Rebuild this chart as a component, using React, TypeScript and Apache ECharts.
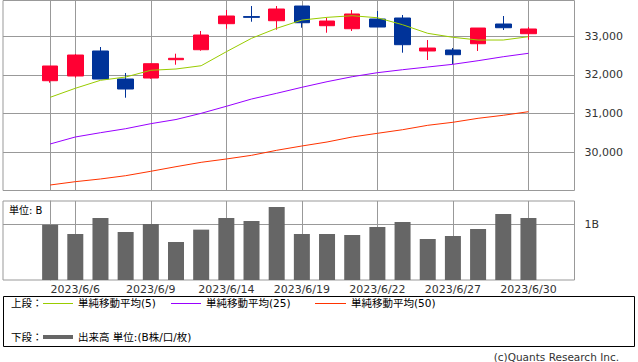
import React, { useEffect, useRef } from 'react';
import * as echarts from 'echarts';

const dates = ['2023/6/5', '2023/6/6', '2023/6/7', '2023/6/8', '2023/6/9', '2023/6/12', '2023/6/13', '2023/6/14', '2023/6/15', '2023/6/16', '2023/6/19', '2023/6/20', '2023/6/21', '2023/6/22', '2023/6/23', '2023/6/26', '2023/6/27', '2023/6/28', '2023/6/29', '2023/6/30'];
const opens = [31851, 31973, 32620, 31895, 31921, 32395, 32653, 33326, 33510, 33403, 33783, 33274, 33196, 33447, 33473, 32620, 32646, 32808, 33318, 33067];
const closes = [32232, 32516, 31895, 31637, 32291, 32431, 33033, 33525, 33490, 33706, 33351, 33395, 33577, 33240, 32783, 32697, 32524, 33214, 33222, 33189];
const lows = [31800, 31929, 31895, 31412, 31903, 32265, 32627, 33196, 33377, 33170, 33222, 33093, 33137, 33240, 32576, 32387, 32283, 32620, 33163, 32912];
const highs = [32232, 32542, 32723, 32051, 32300, 32550, 33137, 33680, 33783, 33783, 33783, 33473, 33680, 33654, 33551, 32904, 32697, 33214, 33525, 33240];
const ma5 = [31422, 31655, 31862, 31947, 32121, 32154, 32239, 32601, 32948, 33207, 33420, 33490, 33532, 33480, 33300, 33077, 32974, 32904, 32904, 32990];
const ma25 = [30215, 30396, 30507, 30610, 30740, 30848, 31008, 31190, 31378, 31526, 31681, 31826, 31955, 32059, 32136, 32206, 32276, 32369, 32472, 32560];
const ma50 = [29154, 29240, 29310, 29395, 29509, 29628, 29741, 29827, 29922, 30052, 30163, 30266, 30396, 30491, 30584, 30698, 30776, 30879, 30957, 31050];
const volumesB = [0.99, 0.826, 1.113, 0.862, 1.005, 0.682, 0.904, 1.113, 1.059, 1.31, 0.826, 0.826, 0.808, 0.95, 1.04, 0.736, 0.79, 0.916, 1.185, 1.113];
const priceTicks = [30000, 31000, 32000, 33000];
const volumeTicks = [1];
const dateTickIndexes = [1, 4, 7, 10, 13, 16, 19];

const FONT = '"DejaVu Sans", "Noto Sans CJK JP", sans-serif';
const UP = '#ff0033';
const DOWN = '#003399';
const GRIDC = '#999999';

export default function App() {
  const ref = useRef<HTMLDivElement>(null);
  useEffect(() => {
    if (!ref.current) return;
    const chart = echarts.init(ref.current, undefined, { renderer: 'svg' });
    const xMin = -1.872;
    const xMax = 20.83;
    const xCommon = (gi: number, showLabel: boolean) => ({
      type: 'value',
      gridIndex: gi,
      min: xMin,
      max: xMax,
      axisLine: { show: false },
      axisTick: { show: false, customValues: dateTickIndexes },
      axisLabel: {
        show: showLabel,
        customValues: dateTickIndexes,
        formatter: (v: number) => dates[Math.round(v)] ?? '',
        fontSize: 11,
        fontFamily: FONT,
        color: '#333',
        margin: 4,
      },
      splitLine: { show: true, lineStyle: { color: GRIDC, width: 1 } },
    });
    const text = (t: string, x: number, y: number, size: number, extra: any = {}) => ({
      type: 'text',
      x,
      y,
      silent: true,
      style: { text: t, fontSize: size, fontFamily: FONT, fill: '#000', verticalAlign: 'middle', align: 'left', ...extra },
    });
    const line = (x1: number, x2: number, y: number, color: string, w: number) => ({
      type: 'line',
      silent: true,
      shape: { x1, y1: y, x2, y2: y },
      style: { stroke: color, lineWidth: w },
    });
    const option: any = {
      animation: false,
      grid: [
        { left: 3, top: 0.5, width: 571.5, height: 190, show: true, borderColor: GRIDC, borderWidth: 1 },
        { left: 3, top: 201, width: 571.5, height: 79, show: true, borderColor: GRIDC, borderWidth: 1 },
      ],
      xAxis: [xCommon(0, false), xCommon(1, true)],
      yAxis: [
        {
          type: 'value',
          gridIndex: 0,
          position: 'right',
          min: 29012,
          max: 33926,
          axisLine: { show: true, lineStyle: { color: GRIDC } },
          axisTick: { show: true, length: 6, lineStyle: { color: GRIDC }, customValues: priceTicks },
          axisLabel: {
            customValues: priceTicks,
            formatter: (v: number) => v.toLocaleString('en-US'),
            fontSize: 11,
            fontFamily: FONT,
            color: '#333',
            margin: 10,
          },
          splitLine: { show: true, lineStyle: { color: GRIDC, width: 1 } },
        },
        {
          type: 'value',
          gridIndex: 1,
          position: 'right',
          min: 0,
          max: 1.418,
          axisLine: { show: true, lineStyle: { color: GRIDC } },
          axisTick: { show: true, length: 6, lineStyle: { color: GRIDC }, customValues: volumeTicks },
          axisLabel: {
            customValues: volumeTicks,
            formatter: (v: number) => v + 'B',
            fontSize: 11,
            fontFamily: FONT,
            color: '#333',
            margin: 10,
          },
          splitLine: { show: true, lineStyle: { color: GRIDC, width: 1 } },
        },
      ],
      series: [
        {
          type: 'candlestick',
          xAxisIndex: 0,
          yAxisIndex: 0,
          barWidth: 16,
          itemStyle: { color: UP, color0: DOWN, borderColor: UP, borderColor0: DOWN, borderWidth: 1 },
          data: dates.map((_, i) => [i, opens[i], closes[i], lows[i], highs[i]]),
        },
        {
          type: 'line', xAxisIndex: 0, yAxisIndex: 0, symbol: 'none',
          lineStyle: { color: '#99cc00', width: 1 },
          data: ma5.map((v, i) => [i, v]),
        },
        {
          type: 'line', xAxisIndex: 0, yAxisIndex: 0, symbol: 'none',
          lineStyle: { color: '#9900ff', width: 1 },
          data: ma25.map((v, i) => [i, v]),
        },
        {
          type: 'line', xAxisIndex: 0, yAxisIndex: 0, symbol: 'none',
          lineStyle: { color: '#ff3300', width: 1 },
          data: ma50.map((v, i) => [i, v]),
        },
        {
          type: 'bar', xAxisIndex: 1, yAxisIndex: 1, barWidth: 16,
          itemStyle: { color: '#666666' },
          data: volumesB.map((v, i) => [i, v]),
        },
      ],
      graphic: [
        text('単位: B', 9, 210, 10),
        {
          type: 'rect',
          silent: true,
          shape: { x: 3.5, y: 296.5, width: 631, height: 50 },
          style: { fill: 'none', stroke: '#000', lineWidth: 1 },
        },
        text('上段：', 11, 303, 10.5),
        line(43, 73, 303.5, '#99cc00', 1),
        text('単純移動平均(5)', 78, 303, 10.5),
        line(171, 201, 303.5, '#9900ff', 1),
        text('単純移動平均(25)', 206, 303, 10.5),
        line(315, 346, 303.5, '#ff3300', 1),
        text('単純移動平均(50)', 351, 303, 10.5),
        text('下段：', 11, 337, 10.5),
        line(43, 73, 337, '#666666', 4),
        text('出来高 単位:(B株/口/枚)', 78, 337, 10.5),
        text('(c)Quants Research Inc.', 619, 357, 10.5, { align: 'right', fill: '#333' }),
      ],
    };
    chart.setOption(option);
    return () => chart.dispose();
  }, []);
  return <div ref={ref} style={{ position: 'absolute', left: 0, top: 0, width: 638, height: 362 }} />;
}
